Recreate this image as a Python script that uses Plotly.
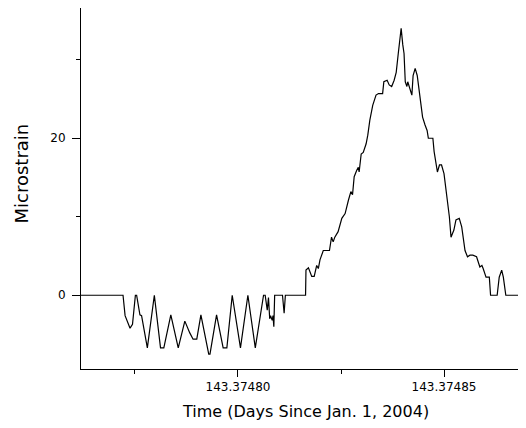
import plotly.graph_objects as go

# Time (days since Jan. 1, 2004)
time_days = [
    143.3747619, 143.3747721, 143.3747726, 143.3747738, 143.3747744, 143.3747751,
    143.3747754, 143.3747762, 143.3747766, 143.3747780, 143.3747797, 143.3747812,
    143.3747820, 143.3747837, 143.3747855, 143.3747871, 143.3747883, 143.3747891,
    143.3747900, 143.3747910, 143.3747929, 143.3747932, 143.3747948, 143.3747964,
    143.3747973, 143.3747986, 143.3748006, 143.3748024, 143.3748042, 143.3748062,
    143.3748066, 143.3748071, 143.3748074, 143.3748077, 143.3748079, 143.3748083,
    143.3748085, 143.3748087, 143.3748089, 143.3748108, 143.3748112, 143.3748115,
    143.3748164, 143.3748165, 143.3748171, 143.3748179, 143.3748185, 143.3748191,
    143.3748195, 143.3748199, 143.3748207, 143.3748222, 143.3748227, 143.3748231,
    143.3748235, 143.3748243, 143.3748252, 143.3748260, 143.3748268, 143.3748274,
    143.3748278, 143.3748282, 143.3748288, 143.3748292, 143.3748294, 143.3748299,
    143.3748304, 143.3748311, 143.3748315, 143.3748320, 143.3748327, 143.3748335,
    143.3748341, 143.3748351, 143.3748354, 143.3748362, 143.3748367, 143.3748373,
    143.3748379, 143.3748384, 143.3748389, 143.3748393, 143.3748396, 143.3748400,
    143.3748403, 143.3748406, 143.3748410, 143.3748412, 143.3748417, 143.3748422,
    143.3748425, 143.3748430, 143.3748435, 143.3748442, 143.3748448, 143.3748454,
    143.3748459, 143.3748462, 143.3748473, 143.3748476, 143.3748481, 143.3748484,
    143.3748489, 143.3748494, 143.3748500, 143.3748507, 143.3748513, 143.3748517,
    143.3748521, 143.3748524, 143.3748529, 143.3748537, 143.3748543, 143.3748547,
    143.3748551, 143.3748557, 143.3748563, 143.3748570, 143.3748579, 143.3748587,
    143.3748592, 143.3748595, 143.3748602, 143.3748610, 143.3748613, 143.3748629,
    143.3748634, 143.3748640, 143.3748644, 143.3748650, 143.3748697,
]

# Microstrain
microstrain = [
    0.0, 0.0, -2.6, -4.2, -3.7, 0.0,
    0.0, -2.5, -2.6, -6.7, 0.0, -6.7,
    -6.7, -2.5, -6.7, -3.3, -4.8, -5.6,
    -5.6, -2.5, -7.5, -7.5, -2.5, -6.7,
    -6.7, 0.0, -6.7, 0.0, -6.7, 0.0,
    0.0, -1.9, -0.3, -3.0, -2.6, -3.2,
    -2.6, -4.0, 0.0, 0.0, -2.3, 0.0,
    0.0, 3.2, 3.5, 2.4, 2.4, 3.8,
    3.4, 4.5, 5.7, 5.7, 7.4, 6.8,
    7.4, 8.1, 9.8, 10.4, 12.1, 13.2,
    12.8, 15.1, 15.9, 16.3, 15.7, 18.0,
    18.2, 19.3, 20.4, 22.3, 24.2, 25.5,
    25.7, 25.7, 27.2, 27.4, 26.8, 26.6,
    27.4, 28.4, 30.8, 32.7, 34.0, 31.9,
    30.8, 27.2, 26.6, 27.2, 26.3, 25.5,
    28.0, 28.9, 28.0, 25.3, 22.7, 21.7,
    21.0, 20.0, 20.0, 18.3, 16.3, 15.7,
    16.6, 16.6, 15.5, 12.5, 10.0, 7.4,
    8.1, 8.3, 9.6, 9.8, 8.7, 7.0,
    5.7, 4.9, 5.1, 5.1, 4.9, 3.6,
    3.8, 3.4, 2.3, 2.3, 0.0, 0.0,
    2.3, 3.2, 2.3, 0.0, 0.0,
]

x_range = [143.3747619, 143.3748699]
y_range = [-9.4, 36.6]

x_title = "Time (Days Since Jan. 1, 2004)"
y_title = "Microstrain"

fig = go.Figure()
fig.add_trace(go.Scatter(
    x=time_days, y=microstrain, mode="lines",
    line=dict(color="black", width=1.2),
    hoverinfo="skip", showlegend=False,
))

tick_font = dict(family="DejaVu Sans, Arial, sans-serif", size=12, color="black")

# page body has an 8px default margin, so the figure is 8px smaller
fig.update_layout(
    width=518, height=420,
    margin=dict(l=73, r=0, t=0, b=59),
    paper_bgcolor="white", plot_bgcolor="white",
    showlegend=False,
    xaxis=dict(
        range=x_range, showgrid=False, zeroline=False,
        showline=True, linecolor="black", linewidth=1,
        ticks="outside", ticklen=7, tickcolor="black", tickwidth=1,
        tick0=143.37480, dtick=0.00005, tickformat=".5f",
        minor=dict(dtick=0.000025, ticks="outside", ticklen=4,
                   tickcolor="black", tickwidth=1, showgrid=False),
        tickfont=tick_font,
    ),
    yaxis=dict(
        range=y_range, showgrid=False, zeroline=False,
        showline=True, linecolor="black", linewidth=1,
        ticks="outside", ticklen=8, tickcolor="black", tickwidth=1,
        tick0=0, dtick=20,
        minor=dict(dtick=10, ticks="outside", ticklen=4,
                   tickcolor="black", tickwidth=1, showgrid=False),
        tickfont=tick_font,
        ticklabelstandoff=4,
    ),
    annotations=[
        dict(text=x_title, xref="paper", yref="paper",
             x=(305 - 81) / 445, y=(369 - 411) / 361,
             xanchor="center", yanchor="middle", showarrow=False,
             font=dict(family="DejaVu Sans, Arial, sans-serif", size=16, color="black")),
        dict(text=y_title, xref="paper", yref="paper",
             x=(21 - 81) / 445, y=(369 - 173.5) / 361,
             xanchor="center", yanchor="middle", showarrow=False, textangle=-90,
             font=dict(family="DejaVu Sans, Arial, sans-serif", size=18, color="black")),
    ],
)

fig.write_html("out.html")
